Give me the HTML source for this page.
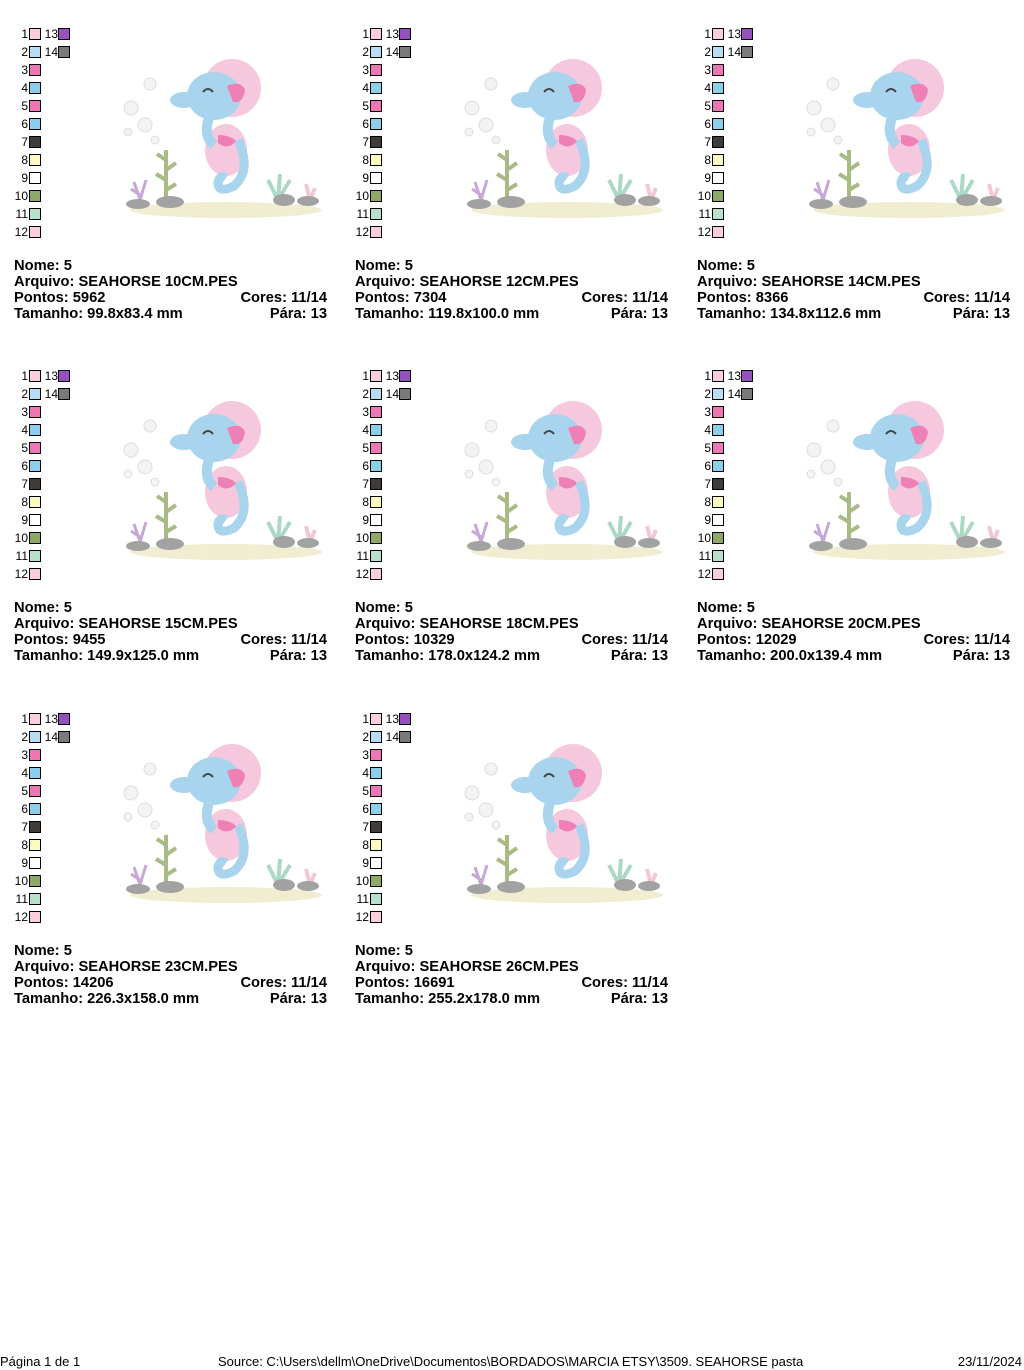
<!DOCTYPE html>
<html><head><meta charset="utf-8"><style>
body{margin:0;width:1024px;height:1370px;background:#fff;position:relative;font-family:"Liberation Sans",Arial,sans-serif;overflow:hidden}
.c{position:absolute;width:320px;height:330px}
.n{position:absolute;font-size:12px;color:#000;text-align:right;width:20px;line-height:14px}
.s{position:absolute;width:12px;height:12px;border:1px solid #000;box-sizing:border-box}
.t{position:absolute;left:0;width:313px;font-size:14.7px;font-weight:bold;line-height:16px;white-space:nowrap}
.t span{position:absolute;right:0}
svg.a{position:absolute;left:0;top:0}
.f{position:absolute;top:1354px;font-size:13px}
</style></head><body>
<svg width="0" height="0" style="position:absolute"><defs>
<symbol id="sh" viewBox="0 0 330 240">
<ellipse cx="226" cy="210" rx="96" ry="8" fill="#f0edd0"/>
<g fill="#f3f3f3" stroke="#ddd"><circle cx="150" cy="84" r="6"/><circle cx="131" cy="108" r="7"/><circle cx="145" cy="125" r="7"/><circle cx="155" cy="140" r="4"/><circle cx="128" cy="132" r="4"/></g>
<path d="M166 200 L166 150 M166 160 l-9 -6 M166 170 l10 -7 M166 180 l-10 -6 M166 190 l10 -6" stroke="#a9bb84" stroke-width="4" fill="none"/>
<path d="M140 200 l-6 -18 M140 200 l6 -20 M140 195 l-9 -6" stroke="#c8a6d8" stroke-width="3"/>
<path d="M278 200 l-10 -20 M278 200 l2 -26 M278 200 l12 -20" stroke="#abd9c3" stroke-width="4"/>
<path d="M310 200 l-4 -16 M310 200 l5 -12" stroke="#f2c8d8" stroke-width="4"/>
<g fill="#a2a2a2"><ellipse cx="138" cy="204" rx="12" ry="5"/><ellipse cx="170" cy="202" rx="14" ry="6"/><ellipse cx="284" cy="200" rx="11" ry="6"/><ellipse cx="308" cy="201" rx="11" ry="5"/></g>
<circle cx="232" cy="88" r="29" fill="#f6c8de"/>
<ellipse cx="226" cy="150" rx="21" ry="26" fill="#f6c8de"/>
<path d="M238 140 q14 30 -4 46 q-16 8 -16 -4 q2 -8 8 -4" stroke="#a9d4ee" stroke-width="9" fill="none"/>
<ellipse cx="214" cy="96" rx="27" ry="24" fill="#a9d4ee"/>
<ellipse cx="184" cy="100" rx="14" ry="8" fill="#a9d4ee"/>
<path d="M210 115 q-8 20 4 30" stroke="#a9d4ee" stroke-width="10" fill="none"/>
<path d="M227 86 q14 -6 18 4 q-2 14 -12 12z" fill="#ee80b6"/>
<path d="M218 135 q12 0 18 6 q-8 10 -18 2z" fill="#ee80b6"/>
<path d="M203 92 q5 -6 10 0" stroke="#444" stroke-width="2" fill="none"/>
</symbol></defs></svg>
<div id="root"></div>
<script>
var cols=[14,355,697],rows=[0,342,685];
var sw=["#f9cfe0","#b8dcf4","#ee76b4","#8ccfea","#ee76b4","#8ccfea","#3e3b38","#fafac0","#ffffff","#8fa868","#b8e0cc","#f9cfe0"];
var data=[["10CM","5962","99.8x83.4"],["12CM","7304","119.8x100.0"],["14CM","8366","134.8x112.6"],["15CM","9455","149.9x125.0"],["18CM","10329","178.0x124.2"],["20CM","12029","200.0x139.4"],["23CM","14206","226.3x158.0"],["26CM","16691","255.2x178.0"]];
var h="";
data.forEach(function(d,i){var x=cols[i%3],y=rows[Math.floor(i/3)];
h+='<div class="c" style="left:'+(x-14)+'px;top:'+y+'px"><svg class="a" width="330" height="240"><use href="#sh"/></svg>';
for(var k=0;k<12;k++){h+='<div class="n" style="left:'+(8)+'px;top:'+(27+18*k)+'px">'+(k+1)+'</div><div class="s" style="left:29px;top:'+(28+18*k)+'px;background:'+sw[k]+'"></div>';}
h+='<div class="n" style="left:38px;top:27px">13</div><div class="s" style="left:58px;top:28px;background:#9650c0"></div>';
h+='<div class="n" style="left:38px;top:45px">14</div><div class="s" style="left:58px;top:46px;background:#7a7a7a"></div>';
h+='<div class="t" style="left:14px;top:258px">Nome: 5</div>';
h+='<div class="t" style="left:14px;top:274px">Arquivo: SEAHORSE '+d[0]+'.PES</div>';
h+='<div class="t" style="left:14px;top:290px">Pontos: '+d[1]+'<span>Cores: 11/14</span></div>';
h+='<div class="t" style="left:14px;top:306px">Tamanho: '+d[2]+' mm<span>Pára: 13</span></div></div>';});
document.getElementById("root").innerHTML=h;
</script>
<div class="f" style="left:0">Página 1 de 1</div>
<div class="f" style="left:218px">Source: C:\Users\dellm\OneDrive\Documentos\BORDADOS\MARCIA ETSY\3509. SEAHORSE pasta</div>
<div class="f" style="right:2px">23/11/2024</div>
</body></html>
